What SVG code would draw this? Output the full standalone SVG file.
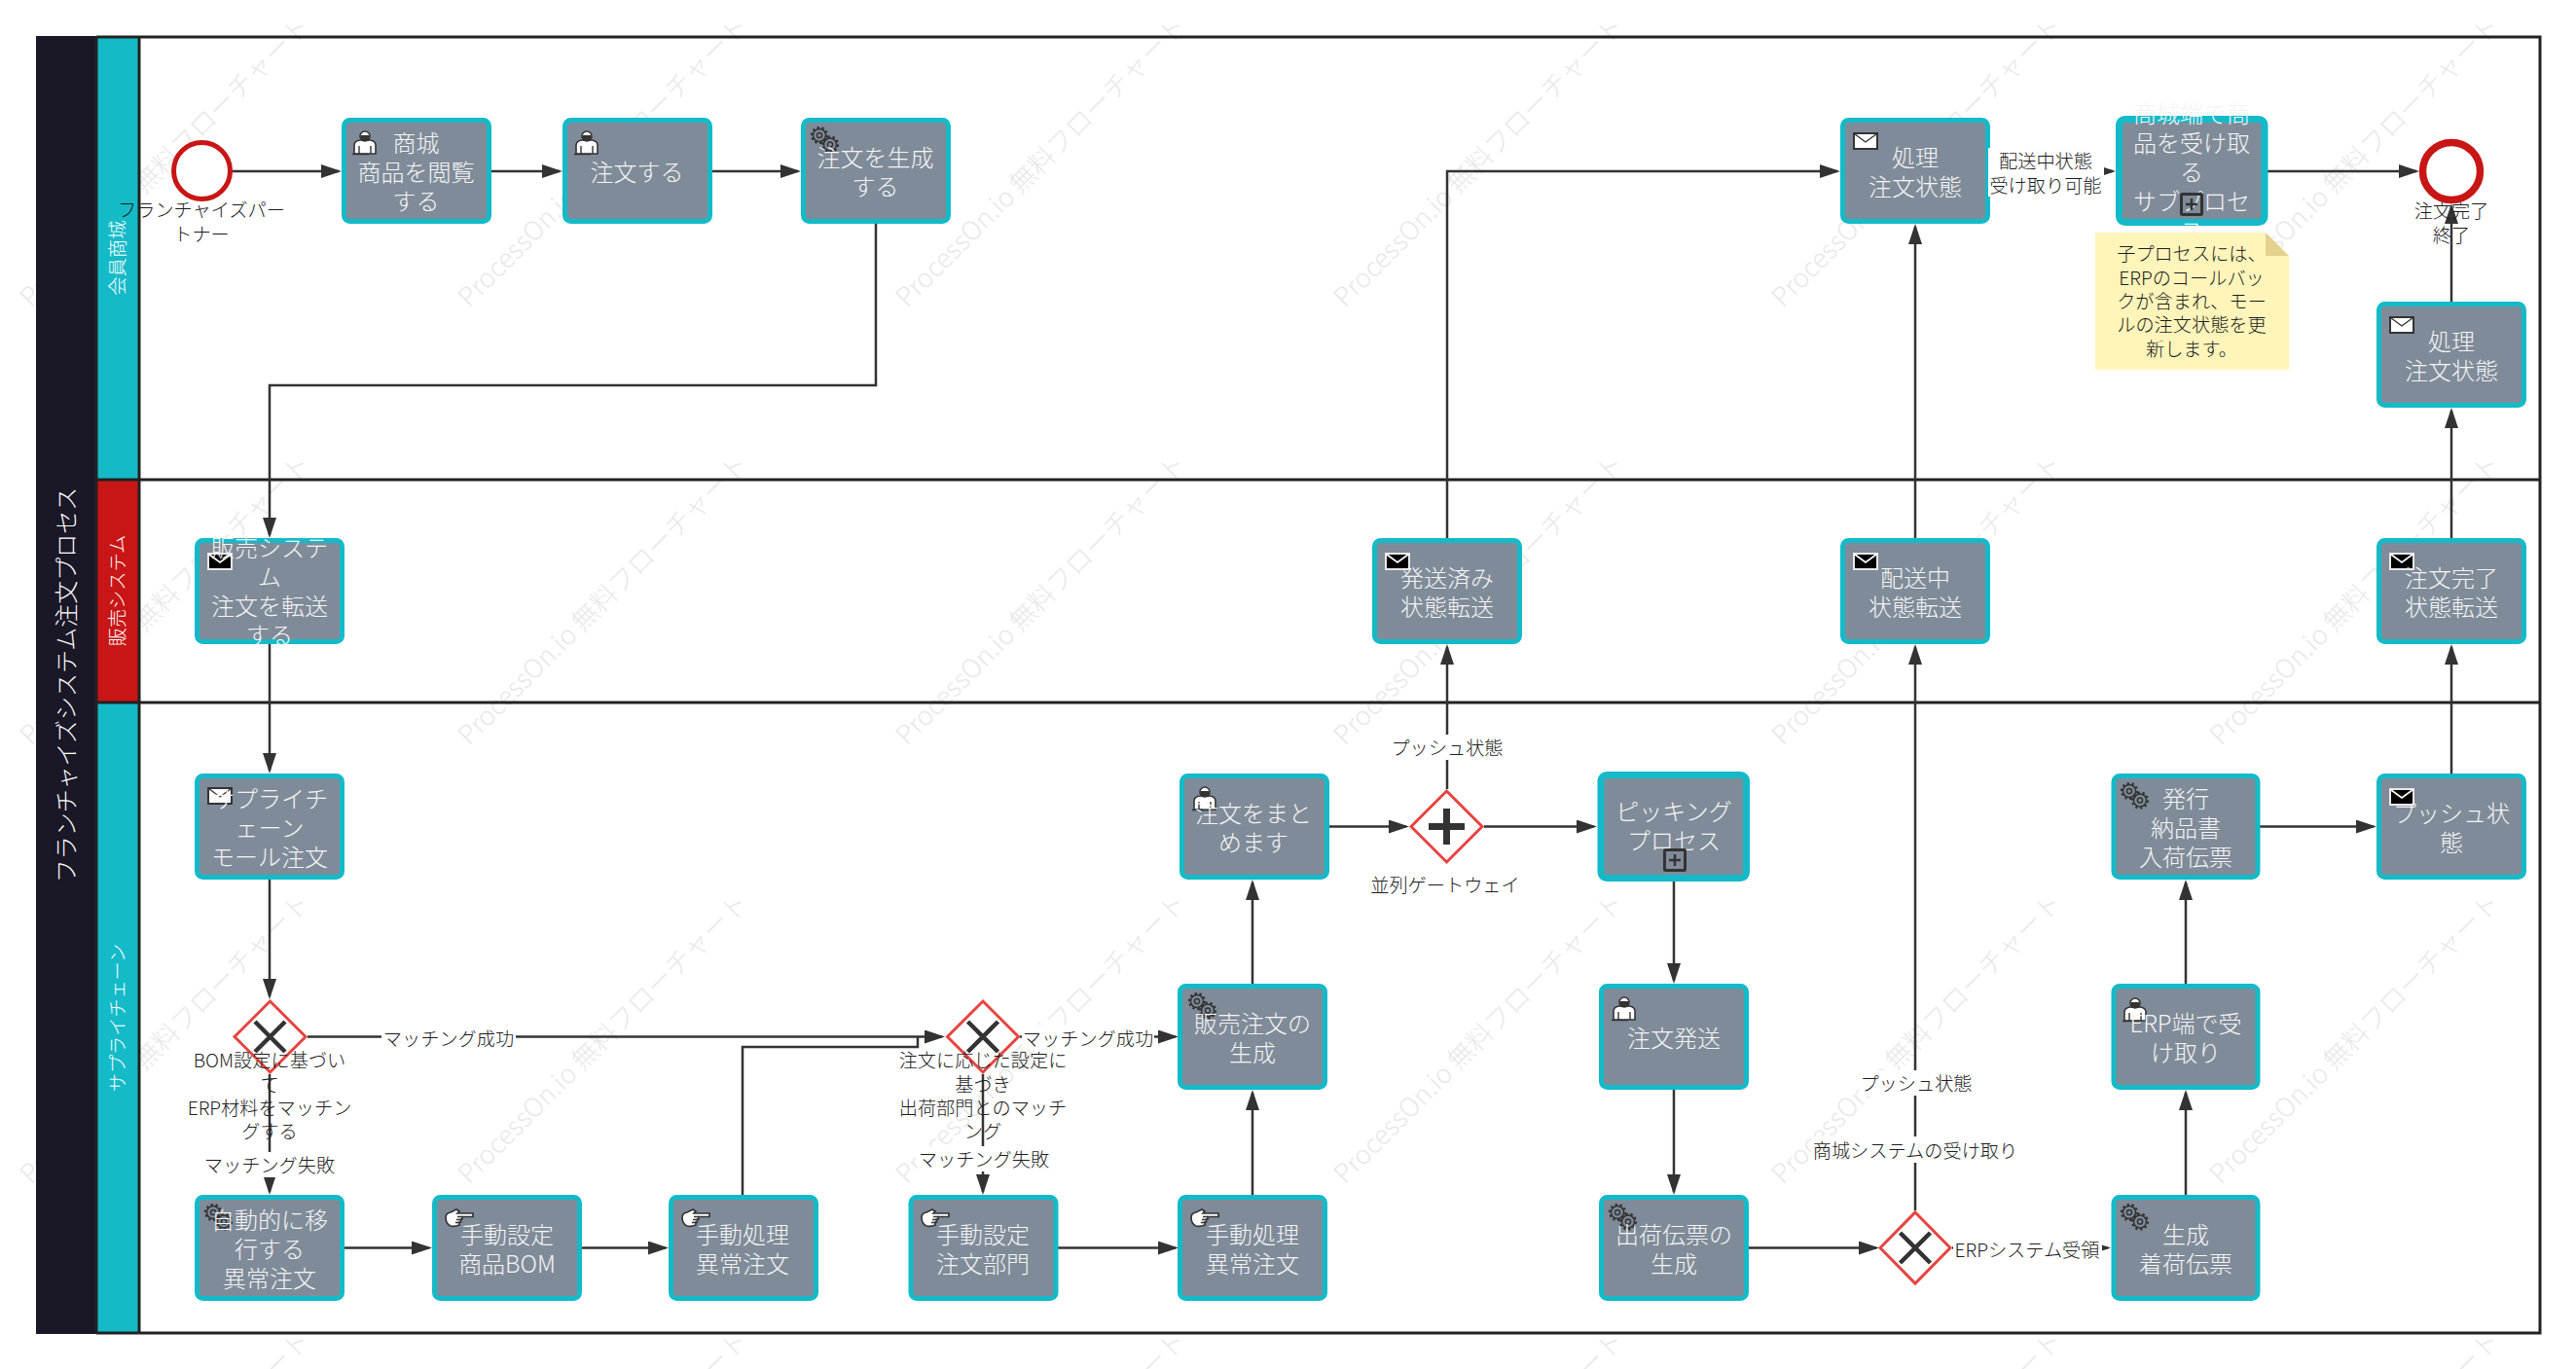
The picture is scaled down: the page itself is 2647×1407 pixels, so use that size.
<svg xmlns="http://www.w3.org/2000/svg" xmlns:xlink="http://www.w3.org/1999/xlink" width="2647" height="1407" viewBox="0 0 2647 1407">
<style>
text{font-family:"Noto Sans CJK JP","Noto Sans",sans-serif}
.task{fill:#808b99;stroke:#14bac8;stroke-width:5}
.sub{fill:#808b99;stroke:#14bac8;stroke-width:7}
.tt{fill:#f4f4f4;font-size:24px;text-anchor:middle;font-weight:300}
.lb{fill:#1c1c1c;font-size:19.2px;text-anchor:middle;font-weight:300}
.lane{fill:#fff;font-size:19.2px;text-anchor:middle;font-weight:300}
.gw{fill:#fff;stroke:#e8433f;stroke-width:3}
.gx{fill:none;stroke:#333;stroke-width:4.5}
.ev{fill:#fff;stroke:#c81515}
.cn{fill:none;stroke:#333;stroke-width:2.5}
.wb{fill:#fff}
.wm{fill:#e8e8e8;font-size:27px;font-weight:300}
.ln{stroke:#222;stroke-width:3;fill:none}
</style>
<defs>
<marker id="ar" markerUnits="userSpaceOnUse" markerWidth="21" markerHeight="14" refX="18" refY="7" orient="auto"><path d="M0,0L21,7L0,14Z" fill="#333"/></marker>
<text id="wm" class="wm">ProcessOn.io 無料フローチャート</text>
<symbol id="user" viewBox="0 0 26 25" overflow="visible"><path d="M2,24V15Q2,11 8,10H18Q24,11 24,15V24Z" fill="#fff" stroke="#333" stroke-width="1.6"/><circle cx="13" cy="6" r="5" fill="#fff" stroke="#333" stroke-width="1.6"/><rect x="9" y="5" width="8" height="6" fill="#333"/><path d="M0,24.5H17M7,16V24M19,16V24" stroke="#333" stroke-width="1.4" fill="none"/></symbol>
<symbol id="gear" viewBox="0 0 30 27" overflow="visible"><g fill="none" stroke="#333"><circle cx="10" cy="9" r="6.5" stroke-width="1.5"/><circle cx="10" cy="9" r="8" stroke-width="2.2" stroke-dasharray="2.4 2.6"/><circle cx="10" cy="9" r="2.6" stroke-width="1.5"/><circle cx="21" cy="18.500" r="6.5" stroke-width="1.5"/><circle cx="21" cy="18.500" r="8" stroke-width="2.2" stroke-dasharray="2.4 2.6"/><circle cx="21" cy="18.500" r="2.6" stroke-width="1.5"/></g></symbol>
<symbol id="mailw" viewBox="0 0 26 18" overflow="visible"><rect x="1" y="1" width="24" height="16" fill="#fff" stroke="#333" stroke-width="2"/><path d="M1.500,1.500L13,10L24.500,1.500" fill="none" stroke="#333" stroke-width="1.4"/></symbol>
<symbol id="mailb" viewBox="0 0 26 18" overflow="visible"><rect x="1" y="1" width="24" height="16" fill="#000" stroke="#e8e8e8" stroke-width="2"/><path d="M1.500,1.500L13,10L24.500,1.500" fill="none" stroke="#fff" stroke-width="1.8"/></symbol>
<symbol id="hand" viewBox="0 0 30 20" overflow="visible"><path d="M1,9Q1,5 6,4L12,1L15,3L13,5H29V8.500H18V11H16.500V14H15V17Q10,19 6,18Q1,16 1,9Z" fill="#fff" stroke="#333" stroke-width="1.7"/><path d="M13,8.500H18M12,11.500H16.500M11,14.500H15" stroke="#333" stroke-width="1.4"/></symbol>
</defs>

<g id="watermark" transform="translate(13,0)">
<use href="#wm" transform="translate(19,317) rotate(-45)"/><use href="#wm" transform="translate(469,317) rotate(-45)"/><use href="#wm" transform="translate(919,317) rotate(-45)"/><use href="#wm" transform="translate(1369,317) rotate(-45)"/><use href="#wm" transform="translate(1819,317) rotate(-45)"/><use href="#wm" transform="translate(2269,317) rotate(-45)"/>
<use href="#wm" transform="translate(19,767) rotate(-45)"/><use href="#wm" transform="translate(469,767) rotate(-45)"/><use href="#wm" transform="translate(919,767) rotate(-45)"/><use href="#wm" transform="translate(1369,767) rotate(-45)"/><use href="#wm" transform="translate(1819,767) rotate(-45)"/><use href="#wm" transform="translate(2269,767) rotate(-45)"/>
<use href="#wm" transform="translate(19,1218) rotate(-45)"/><use href="#wm" transform="translate(469,1218) rotate(-45)"/><use href="#wm" transform="translate(919,1218) rotate(-45)"/><use href="#wm" transform="translate(1369,1218) rotate(-45)"/><use href="#wm" transform="translate(1819,1218) rotate(-45)"/><use href="#wm" transform="translate(2269,1218) rotate(-45)"/>
<use href="#wm" transform="translate(19,1668) rotate(-45)"/><use href="#wm" transform="translate(469,1668) rotate(-45)"/><use href="#wm" transform="translate(919,1668) rotate(-45)"/><use href="#wm" transform="translate(1369,1668) rotate(-45)"/><use href="#wm" transform="translate(1819,1668) rotate(-45)"/><use href="#wm" transform="translate(2269,1668) rotate(-45)"/>
</g>

<g id="pool">
<rect x="37" y="37" width="62" height="1334" fill="#1a1726"/>
<rect x="99" y="38" width="44" height="455" fill="#14bac8"/>
<rect x="99" y="493" width="44" height="229" fill="#c81515"/>
<rect x="99" y="722" width="44" height="648" fill="#14bac8"/>
<path class="ln" d="M99,38H2610V1370H99M99,493H2610M99,722H2610M143,38V1370M99,38V1370"/>
<text transform="translate(77,704) rotate(-90)" fill="#fff" font-size="24" font-weight="300" text-anchor="middle">フランチャイズシステム注文プロセス</text>
<text class="lane" transform="translate(128,265) rotate(-90)">会員商城</text>
<text class="lane" transform="translate(128,607) rotate(-90)">販売システム</text>
<text class="lane" transform="translate(128,1046) rotate(-90)">サプライチェーン</text>
</g>

<g id="connectors">
<path class="cn" marker-end="url(#ar)" d="M239,176H348"/>
<path class="cn" marker-end="url(#ar)" d="M504,176H575"/>
<path class="cn" marker-end="url(#ar)" d="M731,176H820"/>
<path class="cn" marker-end="url(#ar)" d="M900,230V396H277V550"/>
<path class="cn" marker-end="url(#ar)" d="M277,662V792"/>
<path class="cn" marker-end="url(#ar)" d="M277,904V1024"/>
<path class="cn" marker-end="url(#ar)" d="M277,1104V1225"/>
<path class="cn" marker-end="url(#ar)" d="M316,1065.500H968"/>
<path class="cn" d="M763,1228V1076H943V1065.500"/>
<path class="cn" marker-end="url(#ar)" d="M1048,1065.500H1208"/>
<path class="cn" marker-end="url(#ar)" d="M1010,1104V1225"/>
<path class="cn" marker-end="url(#ar)" d="M354,1282.500H441"/>
<path class="cn" marker-end="url(#ar)" d="M598,1282.500H684"/>
<path class="cn" marker-end="url(#ar)" d="M1087,1282.500H1208"/>
<path class="cn" marker-end="url(#ar)" d="M1287,1228V1123"/>
<path class="cn" marker-end="url(#ar)" d="M1287,1011V907"/>
<path class="cn" marker-end="url(#ar)" d="M1366,849.500H1445"/>
<path class="cn" marker-end="url(#ar)" d="M1525,849.500H1638"/>
<path class="cn" marker-end="url(#ar)" d="M1487,811V665"/>
<path class="cn" marker-end="url(#ar)" d="M1487,553V176H1888"/>
<path class="cn" marker-end="url(#ar)" d="M1720,906V1008"/>
<path class="cn" marker-end="url(#ar)" d="M1720,1120V1225"/>
<path class="cn" marker-end="url(#ar)" d="M1797,1282.500H1928"/>
<path class="cn" marker-end="url(#ar)" d="M2006,1282.500H2166"/>
<path class="cn" marker-end="url(#ar)" d="M1968,1244V665"/>
<path class="cn" marker-end="url(#ar)" d="M1968,553V233"/>
<path class="cn" marker-end="url(#ar)" d="M2045,176H2171"/>
<path class="cn" marker-end="url(#ar)" d="M2330,176H2483"/>
<path class="cn" marker-end="url(#ar)" d="M2246,1228V1123"/>
<path class="cn" marker-end="url(#ar)" d="M2246,1011V907"/>
<path class="cn" marker-end="url(#ar)" d="M2322,849.500H2439"/>
<path class="cn" marker-end="url(#ar)" d="M2519,795V665"/>
<path class="cn" marker-end="url(#ar)" d="M2519,553V422"/>
<path class="cn" marker-end="url(#ar)" d="M2519,310V212"/>
</g>

<g id="start"><circle class="ev" cx="207.500" cy="175.500" r="29" stroke-width="5"/><text class="lb"><tspan x="207" y="223">フランチャイズパー</tspan><tspan x="207" y="248">トナー</tspan></text></g>
<g id="end"><circle class="ev" cx="2519" cy="176" r="29.500" stroke-width="7.500"/><text class="lb"><tspan x="2519" y="224">注文完了</tspan><tspan x="2519" y="249">終了</tspan></text></g>

<g id="t-browse"><rect class="task" x="353.500" y="123.500" width="149" height="104" rx="6"/><use href="#user" x="362" y="134" width="26" height="25"/><text class="tt"><tspan x="427.500" y="156">商城</tspan><tspan x="427.500" y="186">商品を閲覧</tspan><tspan x="427.500" y="216">する</tspan></text></g>
<g id="t-order"><rect class="task" x="580.500" y="123.500" width="149" height="104" rx="6"/><use href="#user" x="590" y="134" width="26" height="25"/><text class="tt" x="654.500" y="186">注文する</text></g>
<g id="t-gen"><rect class="task" x="825.500" y="123.500" width="149" height="104" rx="6"/><use href="#gear" x="832" y="130" width="30" height="27"/><text class="tt"><tspan x="899.500" y="171">注文を生成</tspan><tspan x="899.500" y="201">する</tspan></text></g>
<g id="t-status1"><rect class="task" x="1893.500" y="123.500" width="149" height="104" rx="6"/><use href="#mailw" x="1904" y="136" width="26" height="18"/><text class="tt"><tspan x="1968" y="171">処理</tspan><tspan x="1968" y="201">注文状態</tspan></text></g>
<g id="t-sub"><rect class="sub" x="2177.500" y="122.500" width="149.500" height="106" rx="6"/><text class="tt"><tspan x="2252" y="126">商城端で商</tspan><tspan x="2252" y="156">品を受け取</tspan><tspan x="2252" y="186">る</tspan><tspan x="2252" y="216">サブプロセ</tspan><tspan x="2252" y="246">ス</tspan></text><rect x="2241.500" y="199.500" width="21" height="21" rx="1" fill="none" stroke="#333" stroke-width="3"/><path d="M2252,204V216M2246,210H2258" stroke="#333" stroke-width="2.500"/></g>
<g id="note"><path d="M2153,239H2328L2352,263V380H2153Z" fill="#fff5ba"/><path d="M2328,239L2352,263H2328Z" fill="#e3d28c"/><text class="lb"><tspan x="2252" y="268">子プロセスには、</tspan><tspan x="2252" y="293">ERPのコールバッ</tspan><tspan x="2252" y="317">クが含まれ、モー</tspan><tspan x="2252" y="341">ルの注文状態を更</tspan><tspan x="2252" y="366">新します。</tspan></text></g>
<g id="t-status2"><rect class="task" x="2444.500" y="312.500" width="149" height="104" rx="6"/><use href="#mailw" x="2455" y="325" width="26" height="18"/><text class="tt"><tspan x="2519" y="360">処理</tspan><tspan x="2519" y="390">注文状態</tspan></text></g>

<g id="t-sales"><rect class="task" x="202.500" y="555.500" width="149" height="104" rx="6"/><use href="#mailb" x="213" y="568" width="26" height="18"/><text class="tt"><tspan x="277" y="572">販売システ</tspan><tspan x="277" y="602">ム</tspan><tspan x="277" y="632">注文を転送</tspan><tspan x="277" y="662">する</tspan></text></g>
<g id="t-shipped"><rect class="task" x="1412.500" y="555.500" width="149" height="104" rx="6"/><use href="#mailb" x="1423" y="568" width="26" height="18"/><text class="tt"><tspan x="1487" y="603">発送済み</tspan><tspan x="1487" y="633">状態転送</tspan></text></g>
<g id="t-shipping"><rect class="task" x="1893.500" y="555.500" width="149" height="104" rx="6"/><use href="#mailb" x="1904" y="568" width="26" height="18"/><text class="tt"><tspan x="1968" y="603">配送中</tspan><tspan x="1968" y="633">状態転送</tspan></text></g>
<g id="t-done"><rect class="task" x="2444.500" y="555.500" width="149" height="104" rx="6"/><use href="#mailb" x="2455" y="568" width="26" height="18"/><text class="tt"><tspan x="2519" y="603">注文完了</tspan><tspan x="2519" y="633">状態転送</tspan></text></g>

<g id="t-mall"><rect class="task" x="202.500" y="797.500" width="149" height="104" rx="6"/><use href="#mailw" x="213" y="809" width="26" height="18"/><text class="tt"><tspan x="277" y="830">サプライチ</tspan><tspan x="277" y="860">ェーン</tspan><tspan x="277" y="890">モール注文</tspan></text></g>
<g id="t-merge"><rect class="task" x="1214.500" y="797.500" width="149" height="104" rx="6"/><use href="#user" x="1225" y="808" width="26" height="25"/><text class="tt"><tspan x="1288" y="845">注文をまと</tspan><tspan x="1288" y="875">めます</tspan></text></g>
<g id="t-pick"><rect class="sub" x="1645" y="796.500" width="149.500" height="106" rx="6"/><text class="tt"><tspan x="1720" y="843">ピッキング</tspan><tspan x="1720" y="873">プロセス</tspan></text><rect x="1710.500" y="873.500" width="21" height="21" rx="1" fill="none" stroke="#333" stroke-width="3"/><path d="M1721,878V890M1715,884H1727" stroke="#333" stroke-width="2.500"/></g>
<g id="t-invoice"><rect class="task" x="2172" y="797.500" width="148" height="104" rx="6"/><use href="#gear" x="2178" y="804" width="30" height="27"/><text class="tt"><tspan x="2246" y="830">発行</tspan><tspan x="2246" y="860">納品書</tspan><tspan x="2246" y="890">入荷伝票</tspan></text></g>
<g id="t-push"><rect class="task" x="2444.500" y="797.500" width="149" height="104" rx="6"/><use href="#mailb" x="2455" y="810" width="26" height="18"/><text class="tt"><tspan x="2519" y="845">プッシュ状</tspan><tspan x="2519" y="875">態</tspan></text></g>

<g id="t-salesorder"><rect class="task" x="1212.500" y="1013.500" width="149" height="104" rx="6"/><use href="#gear" x="1220" y="1020" width="30" height="27"/><text class="tt"><tspan x="1287" y="1061">販売注文の</tspan><tspan x="1287" y="1091">生成</tspan></text></g>
<g id="t-send"><rect class="task" x="1645.500" y="1013.500" width="149" height="104" rx="6"/><use href="#user" x="1656" y="1024" width="26" height="25"/><text class="tt" x="1720" y="1076">注文発送</text></g>
<g id="t-erprecv"><rect class="task" x="2172" y="1013.500" width="148" height="104" rx="6"/><use href="#user" x="2181" y="1025" width="26" height="25"/><text class="tt"><tspan x="2246" y="1061">ERP端で受</tspan><tspan x="2246" y="1091">け取り</tspan></text></g>

<g id="t-auto"><rect class="task" x="202.500" y="1230.500" width="149" height="104" rx="6"/><use href="#gear" x="209" y="1237" width="30" height="27"/><text class="tt"><tspan x="277" y="1263">自動的に移</tspan><tspan x="277" y="1293">行する</tspan><tspan x="277" y="1323">異常注文</tspan></text></g>
<g id="t-bom"><rect class="task" x="446.500" y="1230.500" width="149" height="104" rx="6"/><use href="#hand" x="457" y="1242" width="30" height="20"/><text class="tt"><tspan x="521" y="1278">手動設定</tspan><tspan x="521" y="1308">商品BOM</tspan></text></g>
<g id="t-exc1"><rect class="task" x="689.500" y="1230.500" width="149" height="104" rx="6"/><use href="#hand" x="700" y="1242" width="30" height="20"/><text class="tt"><tspan x="763" y="1278">手動処理</tspan><tspan x="763" y="1308">異常注文</tspan></text></g>
<g id="t-dept"><rect class="task" x="936" y="1230.500" width="149" height="104" rx="6"/><use href="#hand" x="946" y="1242" width="30" height="20"/><text class="tt"><tspan x="1010" y="1278">手動設定</tspan><tspan x="1010" y="1308">注文部門</tspan></text></g>
<g id="t-exc2"><rect class="task" x="1212.500" y="1230.500" width="149" height="104" rx="6"/><use href="#hand" x="1223" y="1242" width="30" height="20"/><text class="tt"><tspan x="1287" y="1278">手動処理</tspan><tspan x="1287" y="1308">異常注文</tspan></text></g>
<g id="t-slip"><rect class="task" x="1645.500" y="1230.500" width="149" height="104" rx="6"/><use href="#gear" x="1652" y="1237" width="30" height="27"/><text class="tt"><tspan x="1720" y="1278">出荷伝票の</tspan><tspan x="1720" y="1308">生成</tspan></text></g>
<g id="t-arrival"><rect class="task" x="2172" y="1230.500" width="148" height="104" rx="6"/><use href="#gear" x="2178" y="1237" width="30" height="27"/><text class="tt"><tspan x="2246" y="1278">生成</tspan><tspan x="2246" y="1308">着荷伝票</tspan></text></g>

<g id="gw-parallel"><path class="gw" d="M1486.500,813L1523,849.500L1486.500,886L1450,849.500Z"/><path d="M1486.500,831V868M1468,849.500H1505" fill="none" stroke="#333" stroke-width="7"/><text class="lb" x="1485" y="917">並列ゲートウェイ</text></g>
<g id="gw-bom"><path class="gw" d="M277.500,1029L314,1065.500L277.500,1102L241,1065.500Z"/><path class="gx" d="M262,1050L293,1081M293,1050L262,1081"/><text class="lb"><tspan x="277" y="1097">BOM設定に基づい</tspan><tspan x="277" y="1122">て</tspan><tspan x="277" y="1146">ERP材料をマッチン</tspan><tspan x="277" y="1170">グする</tspan></text></g>
<g id="gw-dept"><path class="gw" d="M1010,1029L1046.500,1065.500L1010,1102L973.500,1065.500Z"/><path class="gx" d="M994.500,1050L1025.500,1081M1025.500,1050L994.500,1081"/><text class="lb"><tspan x="1010" y="1097">注文に応じた設定に</tspan><tspan x="1010" y="1122">基づき</tspan><tspan x="1010" y="1146">出荷部門とのマッチ</tspan><tspan x="1010" y="1170">ング</tspan></text></g>
<g id="gw-recv"><path class="gw" d="M1968,1246L2004,1282.500L1968,1319L1932,1282.500Z"/><path class="gx" d="M1952.500,1267L1983.500,1298M1983.500,1267L1952.500,1298"/></g>

<g id="edge-labels">
<rect class="wb" x="209" y="1184" width="136" height="26"/><text class="lb" x="277" y="1205">マッチング失敗</text>
<rect class="wb" x="392" y="1053" width="138" height="26"/><text class="lb" x="461" y="1075">マッチング成功</text>
<rect class="wb" x="1050" y="1053" width="136" height="26"/><text class="lb" x="1118" y="1075">マッチング成功</text>
<rect class="wb" x="943" y="1178" width="136" height="26"/><text class="lb" x="1011" y="1199">マッチング失敗</text>
<rect class="wb" x="1430" y="755" width="114" height="26"/><text class="lb" x="1487" y="776">プッシュ状態</text>
<rect class="wb" x="1910" y="1100" width="116" height="26"/><text class="lb" x="1969" y="1121">プッシュ状態</text>
<rect class="wb" x="1861" y="1168" width="214" height="27"/><text class="lb" x="1968" y="1190">商城システムの受け取り</text>
<rect class="wb" x="2007" y="1269" width="153" height="27"/><text class="lb" x="2083" y="1292">ERPシステム受領</text>
<rect class="wb" x="2043" y="152" width="119" height="50"/><text class="lb"><tspan x="2102" y="173">配送中状態</tspan><tspan x="2102" y="198">受け取り可能</tspan></text>
</g>
</svg>
